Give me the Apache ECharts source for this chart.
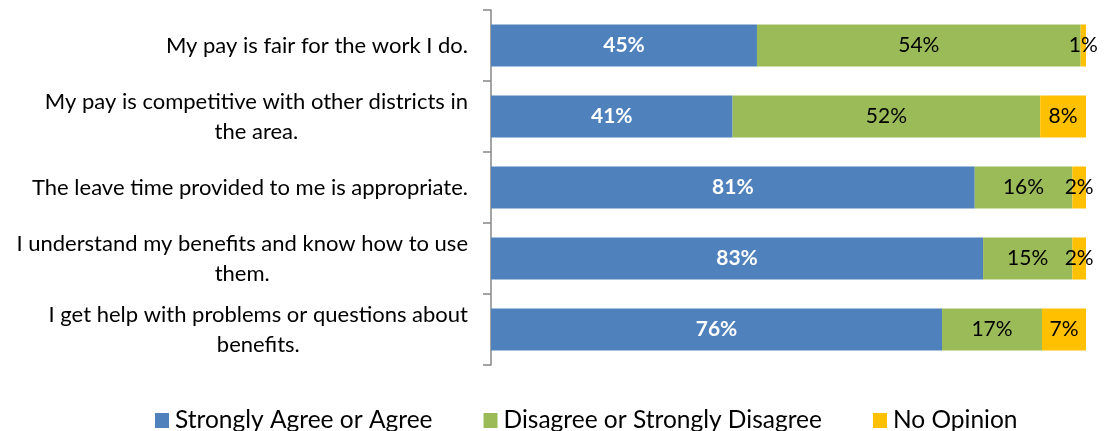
<!DOCTYPE html>
<html>
<head>
<meta charset="utf-8">
<script src="https://cdn.jsdelivr.net/npm/echarts@6/dist/echarts.min.js"></script>
<style>
	html, body { margin: 0; padding: 0; background: #fff; }
	#chart { width: 1117px; height: 431px; }
</style>
</head>
<body>
<div id="chart"></div>
<script>
var categories = [
	'My pay is fair for the work I do.',
	'My pay is competitive with other districts in\nthe area.',
	'The leave time provided to me is appropriate.',
	'I understand my benefits and know how to use\nthem.',
	'I get help with problems or questions about\nbenefits.'
];
var agree = [44.7, 40.6, 81.3, 82.7, 75.8];
var disagree = [54.4, 51.7, 16.4, 15.0, 16.8];
var noOpinion = [0.9, 7.7, 2.3, 2.3, 7.4];
var seriesNames = ['Strongly Agree or Agree', 'Disagree or Strongly Disagree', 'No Opinion'];

var font = 'Lato';
var chart = echarts.init(document.getElementById('chart'));

function pct(p) {
	return Math.round(p.value) + '%';
}

function catLabel(v) {
	// center each line inside the right-aligned block
	return v.split('\n').map(function (s) { return '{c|' + s + '}'; }).join('\n');
}

var option = {
	animation: false,
	textStyle: { fontFamily: font },
	grid: {
		left: 491,
		right: 31,
		top: 10,
		bottom: 66
	},
	legend: {
		data: seriesNames,
		top: 403,
		left: 150,
		itemWidth: 14,
		itemHeight: 15,
		itemGap: 51,
		icon: 'rect',
		textStyle: { fontSize: 24.5, color: '#000', fontFamily: font, padding: [0, 0, 0, 1] }
	},
	xAxis: {
		type: 'value',
		min: 0,
		max: 100,
		show: false
	},
	yAxis: {
		type: 'category',
		inverse: true,
		data: categories,
		axisLine: { show: true, lineStyle: { color: '#868686', width: 1.5 } },
		axisTick: { show: true, inside: false, length: 8, lineStyle: { color: '#868686', width: 1.5 } },
		axisLabel: {
			margin: 23,
			color: '#000',
			fontSize: 22,
			fontFamily: font,
			formatter: catLabel,
			rich: {
				c: { align: 'center', fontSize: 22, lineHeight: 30, color: '#000', fontFamily: font }
			}
		}
	},
	series: [{
		name: seriesNames[0],
		type: 'bar',
		stack: 'total',
		data: agree,
		barWidth: 42,
		itemStyle: { color: '#4F81BD' },
		label: { show: true, position: 'inside', formatter: pct, color: '#fff', fontWeight: 'bold', fontSize: 21, fontFamily: font }
	}, {
		name: seriesNames[1],
		type: 'bar',
		stack: 'total',
		data: disagree,
		barWidth: 42,
		itemStyle: { color: '#9BBB59' },
		label: { show: true, position: 'inside', formatter: pct, color: '#000', fontSize: 21, fontFamily: font }
	}, {
		name: seriesNames[2],
		type: 'bar',
		stack: 'total',
		data: noOpinion,
		barWidth: 42,
		itemStyle: { color: '#FFC000' },
		label: { show: true, position: 'inside', formatter: pct, color: '#000', fontSize: 21, fontFamily: font }
	}]
};

chart.setOption(option);
</script>
</body>
</html>
